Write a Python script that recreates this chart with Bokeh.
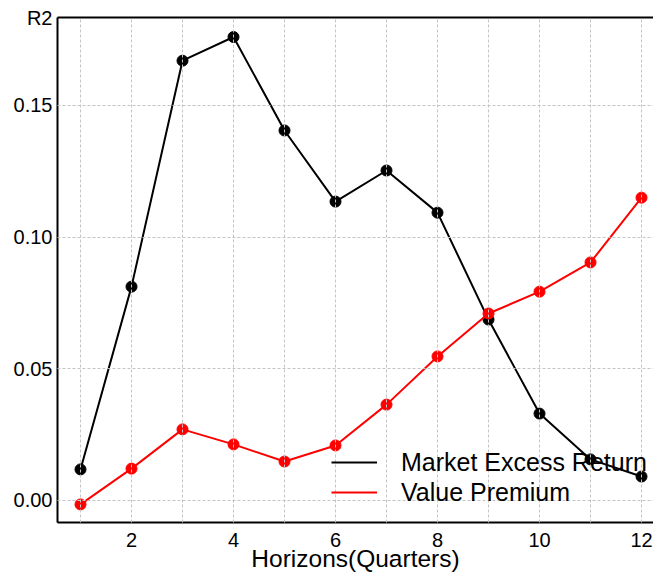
from bokeh.plotting import figure
from bokeh.models import (FixedTicker, CustomJSTickFormatter, Range1d, Legend, LegendItem,
                          LinearAxis)
from bokeh.embed import file_html
from bokeh.resources import INLINE

horizons = [1, 2, 3, 4, 5, 6, 7, 8, 9, 10, 11, 12]
market_excess = [0.0118, 0.0812, 0.1670, 0.1760, 0.1405, 0.1135, 0.1253, 0.1093, 0.0687, 0.0330, 0.0156, 0.0091]
value_premium = [-0.0015, 0.0121, 0.0270, 0.0213, 0.0148, 0.0209, 0.0364, 0.0547, 0.0710, 0.0793, 0.0904, 0.1150]
x_ticks = [2, 4, 6, 8, 10, 12]
x_minor = [1, 3, 5, 7, 9, 11]
y_ticks = [0.0, 0.05, 0.10, 0.15]
y_top = 0.1834
y_axis_title = "R2"

FONT = "Liberation Sans"

p = figure(width=653, height=576, output_backend="svg", toolbar_location=None,
           x_range=Range1d(0.549, 12.235), y_range=Range1d(-0.00836, y_top),
           min_border_left=57, min_border_top=17, min_border_right=0, min_border_bottom=54,
           background_fill_color="white", border_fill_color="white")
p.outline_line_color = None

# axes
for ax in (p.xaxis[0], p.yaxis[0]):
    ax.axis_line_color = "black"
    ax.axis_line_width = 2
    ax.major_tick_line_color = None
    ax.minor_tick_line_color = None
    ax.major_tick_out = 0
    ax.major_tick_in = 0
    ax.minor_tick_out = 0
    ax.minor_tick_in = 0
    ax.major_label_text_font = FONT
    ax.major_label_text_font_size = "20px"
    ax.major_label_text_color = "black"

p.xaxis[0].ticker = FixedTicker(ticks=x_ticks, minor_ticks=x_minor)
p.xaxis[0].major_label_standoff = 10
p.xaxis[0].axis_label = "Horizons(Quarters)"
p.xaxis[0].axis_label_text_font = FONT
p.xaxis[0].axis_label_text_font_size = "24.5px"
p.xaxis[0].axis_label_text_font_style = "normal"
p.xaxis[0].axis_label_text_color = "black"
p.xaxis[0].axis_label_standoff = -5

p.yaxis[0].ticker = FixedTicker(ticks=y_ticks + [y_top])
p.yaxis[0].formatter = CustomJSTickFormatter(
    args=dict(top=y_top, title=y_axis_title),
    code="return Math.abs(tick - top) < 1e-9 ? title : tick.toFixed(2);")
p.yaxis[0].major_label_standoff = 5

top_axis = LinearAxis(ticker=FixedTicker(ticks=[]), axis_line_color="black", axis_line_width=2,
                      major_tick_line_color=None, minor_tick_line_color=None,
                      major_tick_out=0, major_tick_in=0, minor_tick_out=0, minor_tick_in=0,
                      major_label_text_font_size="0px", major_label_standoff=0)
p.add_layout(top_axis, "above")

# grid
p.xgrid.ticker = FixedTicker(ticks=x_ticks, minor_ticks=x_minor)
p.ygrid.ticker = FixedTicker(ticks=y_ticks)
for g in (p.xgrid[0], p.ygrid[0]):
    g.grid_line_color = "#c4c4c4"
    g.grid_line_dash = "3 2"
    g.grid_line_width = 1
    g.level = "overlay"
p.xgrid[0].minor_grid_line_color = "#c4c4c4"
p.xgrid[0].minor_grid_line_dash = "3 2"
p.xgrid[0].minor_grid_line_width = 1

# data
l1 = p.line(horizons, market_excess, line_color="black", line_width=2)
p.scatter(horizons, market_excess, size=11, fill_color="black", line_color="black")
l2 = p.line(horizons, value_premium, line_color="red", line_width=2)
p.scatter(horizons, value_premium, size=11, fill_color="red", line_color="red")

legend = Legend(items=[LegendItem(label="Market Excess Return", renderers=[l1]),
                       LegendItem(label="Value Premium", renderers=[l2])],
                location=(274, 15), padding=0, margin=0, spacing=0,
                glyph_width=46, glyph_height=30, label_height=30, label_standoff=24,
                border_line_alpha=0, background_fill_alpha=0,
                label_text_font=FONT, label_text_font_size="25px", label_text_color="black")
p.add_layout(legend)

open("out.html", "w").write(file_html(p, INLINE))
